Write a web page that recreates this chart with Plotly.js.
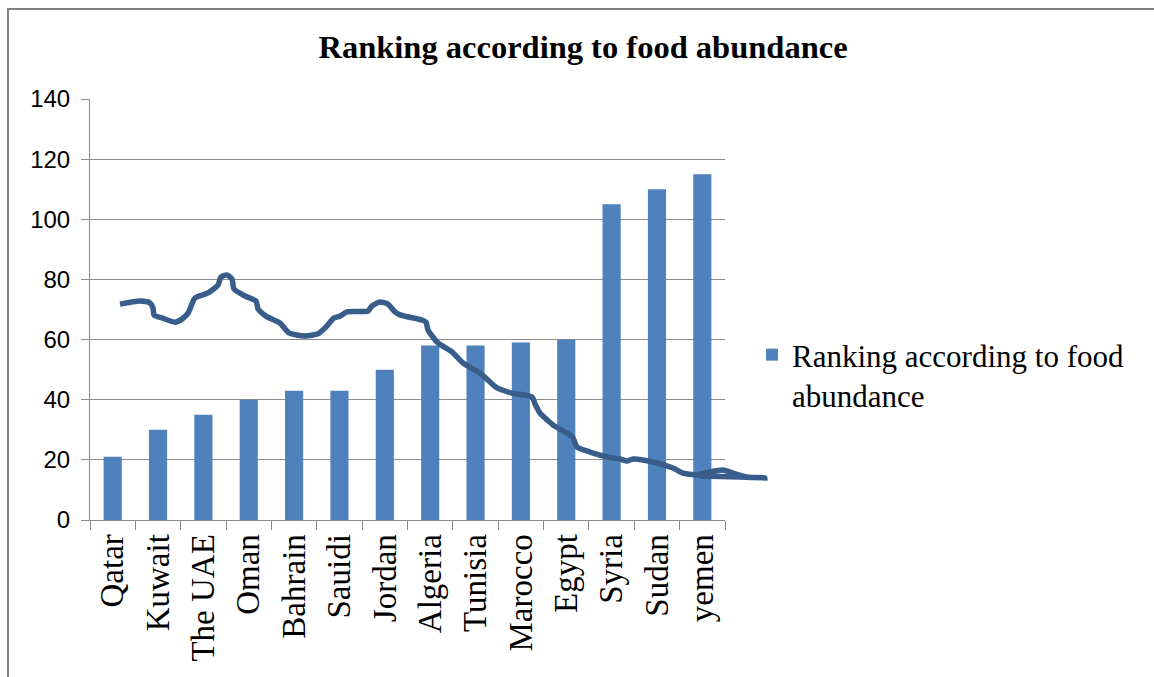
<!DOCTYPE html>
<html>
<head>
<meta charset="utf-8">
<script src="https://cdn.plot.ly/plotly-3.0.1.min.js"></script>
<style>
  html, body { margin: 0; padding: 0; background: #fff; }
  #wrap { position: relative; width: 1154px; height: 677px; overflow: hidden; }
  #chart { width: 1154px; height: 677px; }
  #frame { position: absolute; left: 7px; top: 8px; right: -10px; bottom: -10px;
           border-left: 2px solid #808080; border-top: 2px solid #808080; pointer-events: none; }
</style>
</head>
<body>
<div id="wrap">
  <div id="chart"></div>
  <div id="frame"></div>
</div>
<script>
// ---- data ----
const countries = ["Qatar", "Kuwait", "The UAE", "Oman", "Bahrain", "Sauidi", "Jordan",
                   "Algeria", "Tunisia", "Marocco", "Egypt", "Syria", "Sudan", "yemen"];
const ranking = [21, 30, 35, 40, 43, 43, 50, 58, 58, 59, 60, 105, 110, 115];
const seriesName = "Ranking according to food<br>abundance";
const chartTitle = "Ranking according to food abundance";

// hand-drawn stroke over the chart (x in category-index units, y in axis units)
const sketchX = [0.161, 0.602, 0.823, 0.889, 0.911, 1.087, 1.374, 1.528, 1.661, 1.815,
                 2.102, 2.322, 2.388, 2.520, 2.631, 2.675, 2.917, 3.160, 3.204, 3.380,
                 3.689, 3.887, 4.240, 4.527, 4.703, 4.880, 5.012, 5.166, 5.629, 5.717,
                 5.894, 6.070, 6.224, 6.335, 6.820, 6.908, 6.952, 7.172, 7.481, 7.724,
                 8.098, 8.473, 8.804, 9.245, 9.311, 9.421, 9.708, 10.017, 10.149, 10.237,
                 10.524, 10.898, 11.185, 11.339, 11.472, 11.913, 12.354, 12.574, 12.883, 13.169,
                 13.456, 13.676, 13.985, 14.378, 13.831, 12.949];
const sketchY = [71.8, 72.8, 72.2, 70.5, 68.2, 67.2, 65.8, 66.8, 68.8, 73.8,
                 75.5, 78.1, 80.8, 81.5, 80.1, 76.8, 74.5, 72.8, 70.2, 67.8,
                 65.5, 62.2, 61.2, 61.9, 64.2, 67.2, 67.8, 69.2, 69.5, 71.2,
                 72.5, 71.8, 69.2, 68.2, 66.5, 65.8, 63.2, 58.9, 55.9, 52.2,
                 48.9, 43.9, 42.2, 40.9, 38.6, 35.6, 31.6, 28.9, 27.3, 24.3,
                 22.6, 21.0, 20.3, 19.6, 20.3, 19.3, 17.3, 15.6, 15.0, 16.0,
                 16.6, 15.6, 14.3, 14.0, 14.3, 14.6];

// ---- geometry ----
const W = 1154, H = 677;
const mL = 90, mR = 20, mT = 99, mB = 157;
const plotW = W - mL - mR;
const barAreaW = 635;
const catW = barAreaW / countries.length;
const sketchAreaW = 690;

const traces = [
  {
    type: "bar",
    x: countries,
    y: ranking,
    name: seriesName,
    marker: { color: "#4f81bd" },
    xaxis: "x", yaxis: "y",
    showlegend: true,
    hoverinfo: "x+y"
  },
  {
    type: "scatter",
    mode: "lines",
    x: sketchX,
    y: sketchY,
    xaxis: "x2", yaxis: "y2",
    line: { color: "#385d8a", width: 5.5, shape: "spline", smoothing: 0.6 },
    showlegend: false,
    hoverinfo: "skip"
  }
];

const gridCol = "#8c8c8c";
const layout = {
  width: W, height: H,
  margin: { l: mL, r: mR, t: mT, b: mB, pad: 0 },
  paper_bgcolor: "#ffffff",
  plot_bgcolor: "rgba(0,0,0,0)",
  title: {
    text: "<b>" + chartTitle + "</b>",
    font: { family: "Liberation Serif, Times New Roman, serif", size: 32.5, color: "#000" },
    x: 583 / W, xref: "container", xanchor: "center",
    y: 1 - 47 / H, yref: "container", yanchor: "middle"
  },
  bargap: 0.6,
  xaxis: {
    type: "category",
    domain: [0, barAreaW / plotW],
    anchor: "y",
    tickson: "boundaries",
    ticks: "outside", ticklen: 9, tickcolor: gridCol, tickwidth: 1,
    showline: true, linecolor: gridCol, linewidth: 1,
    showgrid: false,
    tickangle: -90,
    tickfont: { family: "Liberation Serif, Times New Roman, serif", size: 33, color: "#000" },
    fixedrange: true
  },
  yaxis: {
    range: [0, 140],
    domain: [0, 1],
    anchor: "x",
    tickvals: [0, 20, 40, 60, 80, 100, 120, 140],
    ticks: "outside", ticklen: 8, tickcolor: gridCol, tickwidth: 1,
    showline: true, linecolor: gridCol, linewidth: 1,
    showgrid: true, gridcolor: gridCol, gridwidth: 1,
    zeroline: false,
    ticklabelstandoff: 6,
    tickfont: { family: "Liberation Sans, Arial, sans-serif", size: 24, color: "#000" },
    fixedrange: true
  },
  xaxis2: {
    domain: [0, sketchAreaW / plotW],
    anchor: "y2",
    range: [-0.5, -0.5 + sketchAreaW / catW],
    visible: false,
    fixedrange: true
  },
  yaxis2: {
    domain: [0, 1],
    anchor: "x2",
    range: [0, 140],
    visible: false,
    fixedrange: true
  },
  showlegend: true,
  legend: {
    x: (752 - mL) / plotW, xref: "paper", xanchor: "left",
    y: (H - mB - 328) / (H - mT - mB), yanchor: "top",
    valign: "top",
    bgcolor: "rgba(0,0,0,0)",
    font: { family: "Liberation Serif, Times New Roman, serif", size: 31, color: "#000" }
  }
};

Plotly.newPlot("chart", traces, layout, { displayModeBar: false, staticPlot: false });
</script>
</body>
</html>
